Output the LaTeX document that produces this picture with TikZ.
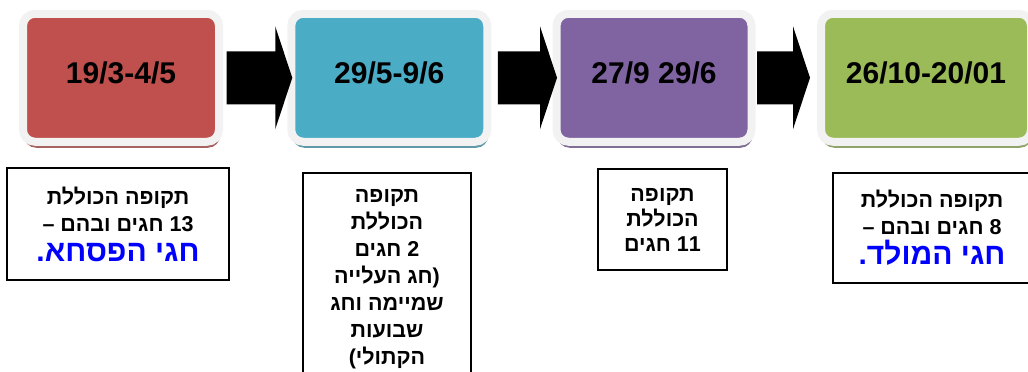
\documentclass[tikz,border=0pt]{standalone}
\usepackage{fontspec}
\setmainfont{Liberation Sans}
\newfontfamily\hebfont[Script=Hebrew]{Liberation Sans}
\TeXXeTstate=1
\usetikzlibrary{calc,shadows}
\definecolor{framegray}{HTML}{F2F2F2}
\definecolor{pesachred}{HTML}{C0504D}
\definecolor{shavuotblue}{HTML}{4BACC6}
\definecolor{summerpurple}{HTML}{8064A2}
\definecolor{christmasgreen}{HTML}{9BBB59}
\newcommand{\hagim}[1]{{\color{blue}\fontsize{30}{27}\selectfont #1}}

\begin{document}
\begin{tikzpicture}[x=1pt,y=-1pt,
	period/.style={rectangle, rounded corners=12pt, fill=#1, draw=framegray, line width=8pt,
		minimum width=196pt, minimum height=128pt, text height=23pt, text depth=12pt,
		font=\bfseries\fontsize{30}{36}\selectfont,
		drop shadow={shadow xshift=1pt, shadow yshift=-6pt, fill=#1!60!gray, opacity=1}},
	note/.style={rectangle, draw, line width=1.4pt, fill=white, align=center, inner sep=0pt,
		font=\hebfont\bfseries\fontsize{21.5}{27}\selectfont},
	blockarrow/.style={to path={(\tikztostart) ++(0,-26.5) -- ($(\tikztotarget)+(-17,-26.5)$)
		-- ($(\tikztotarget)+(-17,-51.5)$) -- (\tikztotarget) -- ($(\tikztotarget)+(-17,51.5)$)
		-- ($(\tikztotarget)+(-17,26.5)$) -- ($(\tikztostart)+(0,26.5)$) -- cycle}}]
			\useasboundingbox (0,0) rectangle (1028,372);
			
			\node[period=pesachred] (b1) at (121,77.75) {19/3-4/5};
			\node[period=shavuotblue] (b2) at (389.25,77.75) {29/5-9/6};
			\node[period=summerpurple, minimum width=195pt] (b3) at (654,77.75) {27/9 29/6};
			\node[period=christmasgreen, minimum width=210pt] (b4) at (926,77.75) {26/10-20/01};
			
			\fill[blockarrow] ($(b1.east)+(3.5,0)$) to ($(b2.west)+(5,0)$);
			\fill[blockarrow] ($(b2.east)+(6.5,0)$) to ($(b3.west)+(4.5,0)$);
			\fill[blockarrow] ($(b3.east)+(1.5,0)$) to ($(b4.west)+(-7,0)$);
			
			\node[note, minimum width=222pt, minimum height=112pt] (t1) at (118,224)
				{\beginR תקופה הכוללת\endR\\ \beginR 13 חגים ובהם –\endR\\[3pt] \hagim{\beginR חגי הפסחא\mbox{.}\endR}};
			\node[note, minimum width=168pt, minimum height=212pt] (t2) at (387,279)
				{\beginR תקופה\endR\\ \beginR הכוללת\endR\\ \beginR 2 חגים\endR\\ \beginR\mbox{(}חג העלייה\endR\\
				\beginR שמיימה וחג\endR\\ \beginR שבועות\endR\\ \beginR הקתולי\mbox{)}\endR};
			\node[note, minimum width=129pt, minimum height=101pt, font=\hebfont\bfseries\fontsize{21.5}{25}\selectfont] (t3) at (662.5,219.5)
				{\beginR תקופה\endR\\ \beginR הכוללת\endR\\ \beginR 11 חגים\endR};
			\node[note, minimum width=198pt, minimum height=110pt] (t4) at (932,228)
				{\beginR תקופה הכוללת\endR\\ \beginR 8 חגים ובהם –\endR\\[3pt] \hagim{\beginR חגי המולד\mbox{.}\endR}};
\end{tikzpicture}
\end{document}
